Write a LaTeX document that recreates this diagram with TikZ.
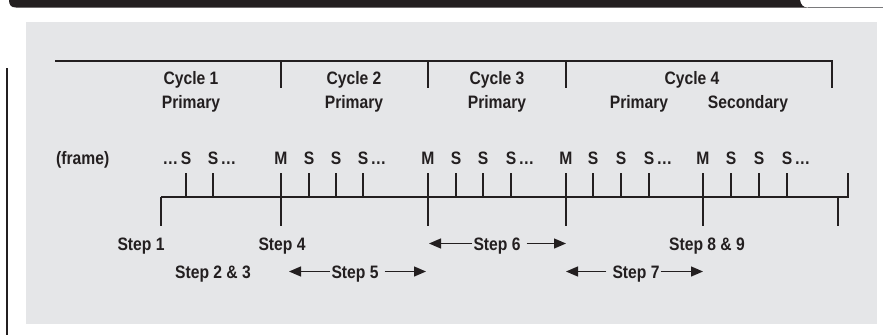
\documentclass[tikz,border=0pt]{standalone}
\usepackage{fontspec}
\setmainfont{Liberation Sans}[FakeStretch=0.87]
\usetikzlibrary{arrows.meta}
\definecolor{ink}{HTML}{231F20}
\definecolor{panel}{HTML}{E5E6E8}
\definecolor{rule}{HTML}{7A7A7C}
\tikzset{
  lbl/.style={font=\fontsize{18}{21}\selectfont\bfseries, text=ink, inner sep=0pt, anchor=base},
  ln/.style={draw=ink, line width=1.3pt},
  steparrow/.style={draw=ink, line width=1.3pt, -{Triangle[length=12pt,width=10pt]}},
}
\begin{document}
\begin{tikzpicture}[x=1pt,y=-1pt]
\useasboundingbox (0,0) rectangle (883,335);
% header bar
\fill[ink] (9,0) -- (800,0) .. controls (801,5) and (803,7.5) .. (808,7.5) -- (16,7.5) .. controls (11,7.5) and (9,5) .. (9,0) -- cycle;
\draw[rule, line width=1pt] (808,7.5) -- (883,7.5);
% panel
\fill[panel] (26,22) rectangle (877,324);
% left margin rule
\draw[ln] (7,68) -- (7,335);
% cycle bracket
\coordinate (tl) at (55,61);
\coordinate (tr) at (832,61);
\coordinate (tre) at (832,88);
\draw[ln] (tl) -- (tr) -- (tre);
\foreach \x in {281,428,566} \draw[ln] (\x,61) -- (\x,88);
% cycle labels
\node[lbl] (c1) at (191,84) {Cycle 1};
\node[lbl] (p1) at (191,108) {Primary};
\node[lbl] (c2) at (354,84) {Cycle 2};
\node[lbl] (p2) at (354,108) {Primary};
\node[lbl] (c3) at (497,84) {Cycle 3};
\node[lbl] (p3) at (497,108) {Primary};
\node[lbl] (c4) at (692,84) {Cycle 4};
\node[lbl] (p4) at (639,108) {Primary};
\node[lbl] (s4) at (748,108) {Secondary};
% frame row
\node[lbl, anchor=base west] (frame) at (56,164) {(frame)};
\foreach \x/\t/\n in {186/S/f1,213/S/f2,281/M/f3,309/S/f4,336/S/f5,363/S/f6,428/M/f7,456/S/f8,483/S/f9,511/S/f10,566/M/f11,593/S/f12,621/S/f13,649/S/f14,703/M/f15,731/S/f16,759/S/f17,787/S/f18}{
  \node[lbl] (\n) at (\x,164) {\t};
  \draw[ln] (\x,173) -- (\x,197);
}
\node[lbl, anchor=base east] (d0) at ([xshift=-2pt]f1.base west) {…};
\foreach \n/\m in {f2/d1,f6/d2,f10/d3,f14/d4,f18/d5}
  \node[lbl, anchor=base west] (\m) at ([xshift=2pt]\n.base east) {…};
% time line
\coordinate (b0) at (161,197);
\coordinate (b1) at (848,197);
\draw[ln] (b0) -- (b1) -- (848,173);
\foreach \x in {161,281,428,566,703,838} \draw[ln] (\x,197) -- (\x,226);
% step labels
\node[lbl] (st1) at (141,250) {Step 1};
\node[lbl] (st4) at (282,250) {Step 4};
\node[lbl] (st23) at (213,278) {Step 2 \& 3};
\node[lbl] (st89) at (707,250) {Step 8 \& 9};
\node[lbl] (st5) at (355,278) {Step 5};
\coordinate (a5l) at (289,271.5);
\coordinate (a5r) at (426,271.5);
\draw[steparrow] (st5.west |- a5l) ++(-1,0) -- (a5l);
\draw[steparrow] (st5.east |- a5r) ++(6,0) -- (a5r);
\node[lbl] (st6) at (497,250) {Step 6};
\coordinate (a6l) at (429,243.5);
\coordinate (a6r) at (566,243.5);
\draw[steparrow] (st6.west |- a6l) ++(-1,0) -- (a6l);
\draw[steparrow] (st6.east |- a6r) ++(6,0) -- (a6r);
\node[lbl] (st7) at (636,278) {Step 7};
\coordinate (a7l) at (566,271.5);
\coordinate (a7r) at (703,271.5);
\draw[steparrow] (st7.west |- a7l) ++(-6,0) -- (a7l);
\draw[steparrow] (st7.east |- a7r) ++(1,0) -- (a7r);
\end{tikzpicture}
\end{document}
